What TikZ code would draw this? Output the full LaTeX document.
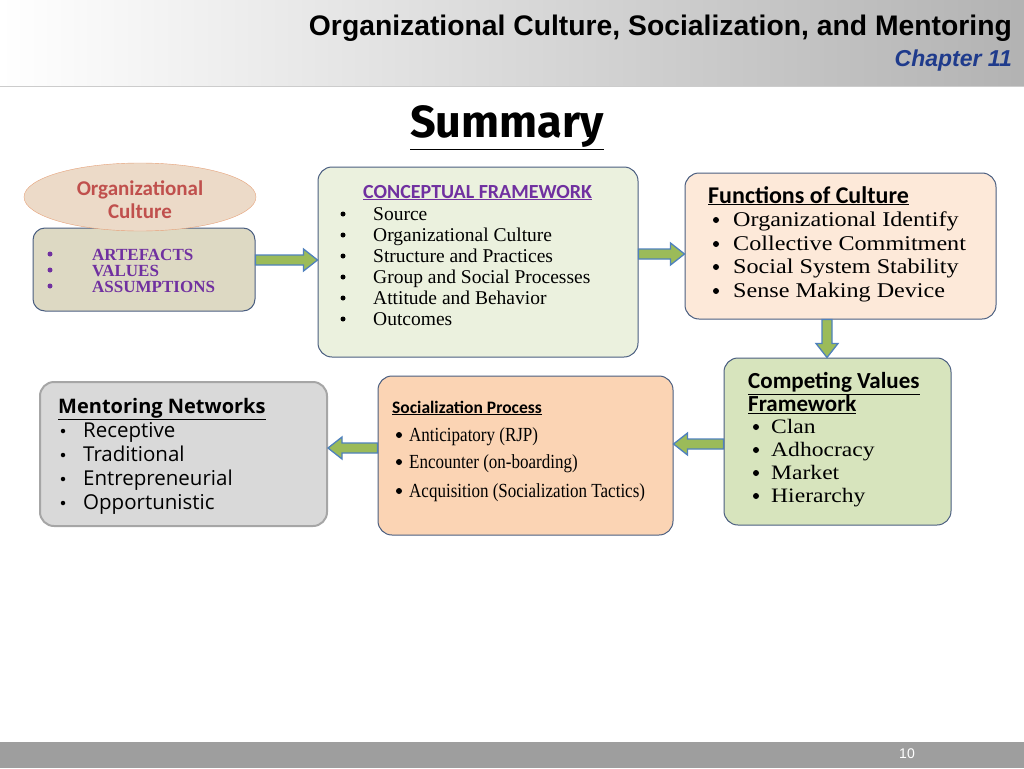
\documentclass[tikz,border=0pt]{standalone}
\usepackage{fontspec}
\setmainfont{Liberation Serif}
\newfontfamily\arialf{Liberation Sans}
\newfontfamily\calf{Carlito}
\newfontfamily\opensf{Open Sans}
\newfontfamily\sumf{Fira Sans}
\newfontfamily\widef[FakeStretch=1.15]{Liberation Serif}
\usetikzlibrary{shapes.geometric,calc}
\definecolor{agreen}{HTML}{9BBB59}
\definecolor{ablue}{HTML}{4F81BD}
\definecolor{bord}{HTML}{4A5E80}
\definecolor{purp}{HTML}{7030A0}
\definecolor{titblue}{HTML}{1F3B8C}
\tikzset{
 box/.style={draw=bord,line width=1pt,rounded corners=14pt},
 fat/.style={fill=agreen,draw=ablue,line width=1.3pt},
 itm/.style={anchor=west,inner sep=0pt,text height=0.7em,text depth=0.2em,yshift=-3.5pt},
 bul/.style={circle,fill,inner sep=0pt,minimum size=#1},
}
% horizontal fat arrow from node #1 to node #2 at picture row #3 (#4: +1 right, -1 left)
\newcommand\harr[4]{\draw[fat] let \p1=(#1), \p2=(#2) in
 (\x1,{-(#3-5)*1pt})--({\x2-#4*14pt},{-(#3-5)*1pt})--({\x2-#4*14pt},{-(#3-11)*1pt})--(\x2,{-#3*1pt})
 --({\x2-#4*14pt},{-(#3+11)*1pt})--({\x2-#4*14pt},{-(#3+5)*1pt})--(\x1,{-(#3+5)*1pt})--cycle;}
\newcommand\varr[3]{\draw[fat] let \p1=(#1), \p2=(#2) in
 ({(#3-5)*1pt},\y1)--({(#3-5)*1pt},\y2+14pt)--({(#3-11)*1pt},\y2+14pt)--({#3*1pt},\y2)
 --({(#3+11)*1pt},\y2+14pt)--({(#3+5)*1pt},\y2+14pt)--({(#3+5)*1pt},\y1)--cycle;}
\begin{document}
\begin{tikzpicture}[x=1pt,y=-1pt]
\useasboundingbox (0,0) rectangle (1024,768);
\shade[left color=white,right color=black!30] (0,0) rectangle (1024,86);
\draw[black!20] (0,86)--(1024,86);
\node[anchor=east,inner sep=0pt] (t) at (1012,28) {\arialf\bfseries\fontsize{28.3}{30}\selectfont Organizational Culture, Socialization, and Mentoring};
\node[anchor=east,inner sep=0pt] (c) at (1012,61) {\arialf\bfseries\itshape\fontsize{23}{25}\selectfont\color{titblue} Chapter 11};
\node[inner sep=0pt] (s) at (507,128) {\sumf\bfseries\fontsize{45}{46}\selectfont\underline{Summary}};
\fill[black!38] (0,742) rectangle (1024,768);
\node[inner sep=0pt,text=white] (pg) at (907,754) {\arialf\fontsize{14}{15}\selectfont 10};
% ellipse + box1
\node[box,rounded corners=12pt,fill={rgb,255:red,221;green,217;blue,195},minimum width=222pt,minimum height=83pt] (b1) at (144,269.5) {};
\node[ellipse,draw={rgb,255:red,230;green,160;blue,120},fill={rgb,255:red,236;green,218;blue,200},minimum width=232pt,minimum height=68pt] (el) at (140,197) {};
\node[align=center,text={rgb,255:red,192;green,80;blue,77},font=\calf\bfseries\fontsize{21}{23}\selectfont] (elt) at (140,200) {Organizational\\Culture};
\foreach \y/\t in {254/ARTEFACTS,270/VALUES,286/ASSUMPTIONS}{
 \node[bul=5pt,text=purp,fill=purp] at (50,\y) {};
 \node[itm,text=purp] at (92,\y) {\bfseries\fontsize{17}{17}\selectfont \t};}
% box2
\node[box,fill={rgb,255:red,235;green,241;blue,222},minimum width=320pt,minimum height=190pt] (b2) at (478,262) {};
\node[itm,text={rgb,255:red,112;green,48;blue,160}] at (363,192) {\calf\bfseries\fontsize{20}{21}\selectfont\underline{CONCEPTUAL FRAMEWORK}};
\foreach \y/\t in {214/Source,235/Organizational Culture,256/Structure and Practices,277/Group and Social Processes,298/Attitude and Behavior,319/Outcomes}{
 \node[bul=5pt] at (343,\y) {};
 \node[itm] at (373,\y) {\fontsize{19.5}{20}\selectfont \t};}
% box3
\node[box,fill={rgb,255:red,253;green,233;blue,217},minimum width=311pt,minimum height=146pt] (b3) at (840.5,246) {};
\node[itm] at (708,197) {\calf\bfseries\fontsize{24}{25}\selectfont\underline{Functions of Culture}};
\foreach \y/\t in {220/Organizational Identify,244/Collective Commitment,267/Social System Stability,291/Sense Making Device}{
 \node[bul=6pt] at (716,\y) {};
 \node[itm] at (733,\y) {\widef\fontsize{21}{22}\selectfont \t};}
% box4
\node[box,fill={rgb,255:red,215;green,228;blue,189},minimum width=227pt,minimum height=167pt] (b4) at (837.5,441.5) {};
\node[anchor=west,inner sep=0pt,align=left,font=\calf\bfseries\fontsize{23}{22}\selectfont] at (748,393) {\underline{Competing Values}\\\underline{Framework}};
\foreach \y/\t in {427/Clan,450/Adhocracy,473/Market,496/Hierarchy}{
 \node[bul=6pt] at (756,\y) {};
 \node[itm] at (771,\y) {\widef\fontsize{20.5}{22}\selectfont \t};}
% box5
\node[box,fill={rgb,255:red,251;green,212;blue,180},minimum width=295pt,minimum height=159pt] (b5) at (525.5,455.5) {};
\node[itm] at (392,407) {\calf\bfseries\fontsize{17.5}{18}\selectfont\underline{Socialization Process}};
\foreach \y/\t in {435/Anticipatory (RJP),462/Encounter (on-boarding),491/Acquisition (Socialization Tactics)}{
 \node[bul=6pt] at (399,\y) {};
 \node[itm] at (409,\y) {\fontsize{20}{21}\selectfont\addfontfeature{FakeStretch=0.85} \t};}
% box6
\node[draw=black!35,line width=2pt,rounded corners=14pt,fill=black!15,minimum width=287pt,minimum height=144pt] (b6) at (183.5,454) {};
\node[itm] at (58,407) {\opensf\bfseries\fontsize{20}{21}\selectfont\underline{Mentoring Networks}};
\foreach \y/\t in {431/Receptive,455/Traditional,479/Entrepreneurial,503/Opportunistic}{
 \node[bul=4.5pt] at (63,\y) {};
 \node[itm] at (83,\y) {\opensf\fontsize{20.5}{21}\selectfont \t};}
% arrows, node to node
\harr{b1.east}{b2.west}{260}{1}
\harr{b2.east}{b3.west}{254}{1}
\varr{b3.south}{b4.north}{827}
\harr{b4.west}{b5.east}{444}{-1}
\harr{b5.west}{b6.east}{448}{-1}
\end{tikzpicture}
\end{document}
